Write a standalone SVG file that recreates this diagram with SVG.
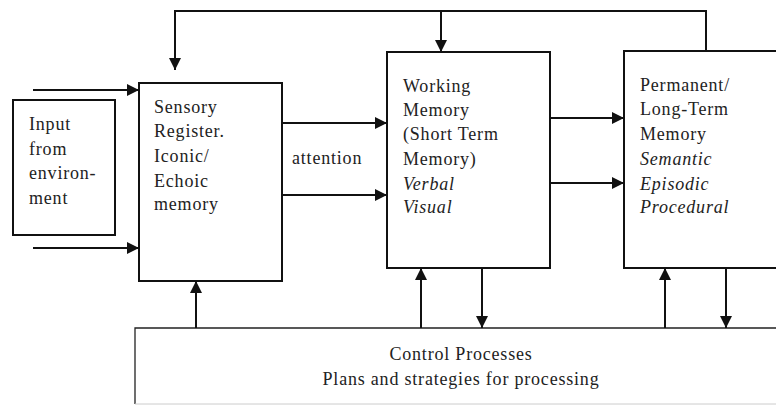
<svg xmlns="http://www.w3.org/2000/svg" width="776" height="405" viewBox="0 0 776 405">
<style>
.box{fill:#fff;stroke:#111;stroke-width:2}
.t{font-family:"Liberation Serif","Times New Roman",serif;font-size:18px;fill:#222;letter-spacing:0.8px}
.i{font-style:italic}
.c{stroke:#111;stroke-width:2;fill:none}
.a{marker-end:url(#ah)}
</style>
<defs>
<marker id="ah" viewBox="0 0 12 12" refX="12" refY="6" markerWidth="12" markerHeight="12" markerUnits="userSpaceOnUse" orient="auto">
<path d="M0,0 L12,6 L0,12 z" fill="#111"/>
</marker>
</defs>
<rect width="776" height="405" fill="#fff"/>
<g id="control">
<path d="M135,404 L135,328 L790,328" fill="#fff" stroke="#222" stroke-width="1.3"/>
<line x1="135" y1="404" x2="776" y2="404" stroke="#ccc" stroke-width="1"/>
<text class="t" x="461" y="360" text-anchor="middle">Control Processes</text>
<text class="t" x="461" y="385" text-anchor="middle">Plans and strategies for processing</text>
</g>
<g id="input">
<rect class="box" x="13" y="100" width="102" height="135"/>
<text class="t" x="29" y="130">Input</text>
<text class="t" x="29" y="155">from</text>
<text class="t" x="29" y="179">environ-</text>
<text class="t" x="29" y="204">ment</text>
</g>
<g id="sensory">
<rect class="box" x="139" y="83" width="143" height="198"/>
<text class="t" x="154" y="113">Sensory</text>
<text class="t" x="154" y="137">Register.</text>
<text class="t" x="154" y="162">Iconic/</text>
<text class="t" x="154" y="187">Echoic</text>
<text class="t" x="154" y="210">memory</text>
</g>
<g id="working">
<rect class="box" x="387" y="52" width="163" height="216"/>
<text class="t" x="403" y="92">Working</text>
<text class="t" x="403" y="116">Memory</text>
<text class="t" x="403" y="140">(Short Term</text>
<text class="t" x="403" y="165">Memory)</text>
<text class="t i" x="403" y="190">Verbal</text>
<text class="t i" x="403" y="213">Visual</text>
</g>
<g id="longterm">
<rect class="box" x="624" y="51" width="170" height="217"/>
<text class="t" x="640" y="91">Permanent/</text>
<text class="t" x="640" y="115">Long-Term</text>
<text class="t" x="640" y="140">Memory</text>
<text class="t i" x="640" y="165">Semantic</text>
<text class="t i" x="640" y="190">Episodic</text>
<text class="t i" x="640" y="213">Procedural</text>
</g>
<g id="connectors">
<path class="c a" d="M706,51 L706,11 L175,11 L175,70"/>
<line class="c a" x1="441" y1="11" x2="441" y2="52"/>
<line class="c a" x1="33" y1="90" x2="139" y2="90"/>
<line class="c a" x1="33" y1="248" x2="139" y2="248"/>
<line class="c a" x1="282" y1="123" x2="387" y2="123"/>
<line class="c a" x1="282" y1="195" x2="387" y2="195"/>
<text class="t" x="292" y="164">attention</text>
<line class="c a" x1="550" y1="118" x2="624" y2="118"/>
<line class="c a" x1="550" y1="183" x2="624" y2="183"/>
<line class="c a" x1="196" y1="328" x2="196" y2="281"/>
<line class="c a" x1="421" y1="328" x2="421" y2="268"/>
<line class="c a" x1="482" y1="268" x2="482" y2="328"/>
<line class="c a" x1="665" y1="328" x2="665" y2="268"/>
<line class="c a" x1="726" y1="268" x2="726" y2="328"/>
</g>
</svg>
